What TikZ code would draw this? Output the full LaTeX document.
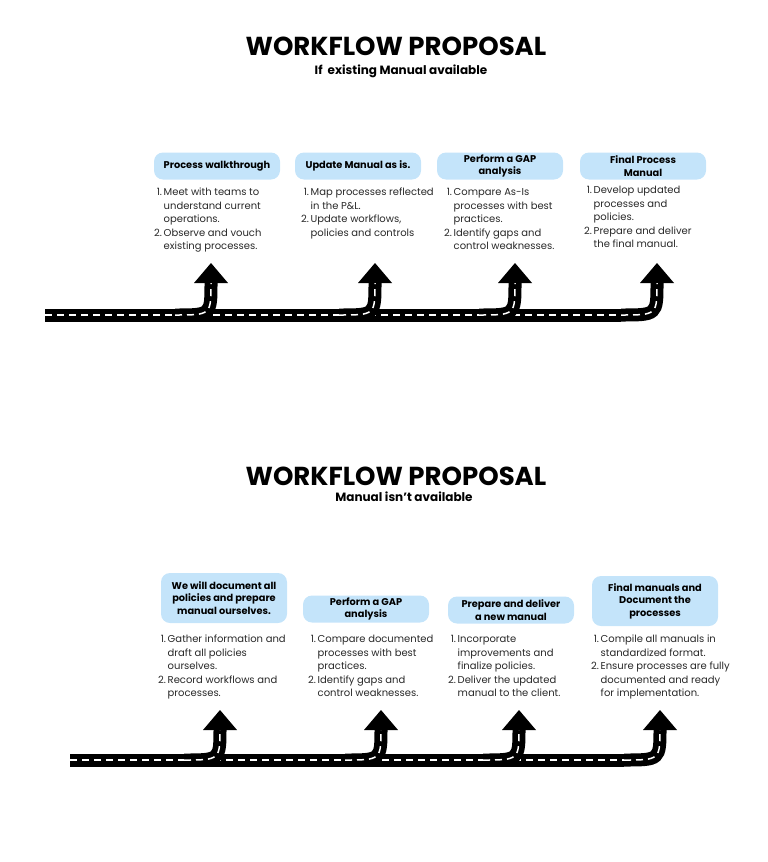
\documentclass[tikz,border=0pt]{standalone}
\usepackage{fontspec}
\setmainfont{Poppins}
\usetikzlibrary{positioning}
\definecolor{boxblue}{RGB}{196,228,250}
\definecolor{bodygrey}{RGB}{40,40,40}
\tikzset{
  title/.style={font=\bfseries\fontsize{26}{30}\selectfont},
  subtitle/.style={font=\bfseries\fontsize{12}{14}\selectfont},
  stepbox/.style={rectangle, rounded corners=9pt, fill=boxblue, minimum width=126pt, minimum height=27pt, align=center, inner sep=2pt, font=\bfseries\fontsize{9.8}{12.5}\selectfont},
  steplist/.style={anchor=north west, inner sep=0pt, text=bodygrey, font=\fontsize{10}{13.5}\selectfont},
  road/.style={line width=13pt, black},
  lane/.style={line width=1.5pt, white, dash pattern=on 7pt off 5pt}
}
\newcommand{\roadturn}[3]{% x, road y, tip y
  \draw[road] (#1-36,#2) .. controls (#1,#2) .. (#1,#2-32) -- (#1,#3+18);
  \draw[lane] (#1-36,#2) .. controls (#1,#2) .. (#1,#2-32) -- (#1,#3+20);
  \fill (#1,#3) -- (#1+17,#3+20) -- (#1-17,#3+20) -- cycle;
}
\begin{document}
\begin{tikzpicture}[x=1pt,y=-1pt]
\useasboundingbox (0,0) rectangle (768,862);

% first proposal
\node (titleA) [title] at (396,46) {WORKFLOW PROPOSAL};
\node (subA) [subtitle] at (401,71) {If\ \ existing Manual available};

\draw[road] (45,315) -- (621,315);
\draw[lane] (45,315) -- (621,315);
\foreach \x in {211,375,515}{\roadturn{\x}{315}{263}}
\roadturn{657}{315}{263}

\node (walk) [stepbox] at (217,166) {Process walkthrough};
\node (update) [stepbox] at (358,166) {Update Manual as is.};
\node (gapA) [stepbox] at (500,166) {Perform a GAP\\analysis};
\node (finalA) [stepbox] at (643,166) {Final Process\\Manual};

\node (walklist) [steplist] at (154,186) {\begin{tabular}{@{}r@{\,}l@{}}
1.&Meet with teams to\\ &understand current\\ &operations.\\
2.&Observe and vouch\\ &existing processes.\end{tabular}};
\node (updatelist) [steplist] at (301,186) {\begin{tabular}{@{}r@{\,}l@{}}
1.&Map processes reflected\\ &in the P\&L.\\
2.&Update workflows,\\ &policies and controls\end{tabular}};
\node (gapAlist) [steplist] at (444,186) {\begin{tabular}{@{}r@{\,}l@{}}
1.&Compare As-Is\\ &processes with best\\ &practices.\\
2.&Identify gaps and\\ &control weaknesses.\end{tabular}};
\node (finalAlist) [steplist] at (584,184) {\begin{tabular}{@{}r@{\,}l@{}}
1.&Develop updated\\ &processes and\\ &policies.\\
2.&Prepare and deliver\\ &the final manual.\end{tabular}};

% second proposal
\node (titleB) [title] at (396,476) {WORKFLOW PROPOSAL};
\node (subB) [subtitle] at (404,497) {Manual isn't available};

\draw[road] (70,760) -- (624,760);
\draw[lane] (70,760) -- (624,760);
\foreach \x in {220,381,519}{\roadturn{\x}{760}{710}}
\roadturn{660}{760}{710}

\node (document) [stepbox, minimum height=50pt] at (224,598) {We will document all\\policies and prepare\\manual ourselves.};
\node (gapB) [stepbox] at (366,609) {Perform a GAP\\analysis};
\node (deliver) [stepbox] at (511,610) {Prepare and deliver\\a new manual};
\node (finalB) [stepbox, minimum height=50pt] at (655,601) {Final manuals and\\Document the\\processes};

\node (documentlist) [steplist] at (158,633) {\begin{tabular}{@{}r@{\,}l@{}}
1.&Gather information and\\ &draft all policies\\ &ourselves.\\
2.&Record workflows and\\ &processes.\end{tabular}};
\node (gapBlist) [steplist] at (308,633) {\begin{tabular}{@{}r@{\,}l@{}}
1.&Compare documented\\ &processes with best\\ &practices.\\
2.&Identify gaps and\\ &control weaknesses.\end{tabular}};
\node (deliverlist) [steplist] at (448,633) {\begin{tabular}{@{}r@{\,}l@{}}
1.&Incorporate\\ &improvements and\\ &finalize policies.\\
2.&Deliver the updated\\ &manual to the client.\end{tabular}};
\node (finalBlist) [steplist] at (591,633) {\begin{tabular}{@{}r@{\,}l@{}}
1.&Compile all manuals in\\ &standardized format.\\
2.&Ensure processes are fully\\ &documented and ready\\ &for implementation.\end{tabular}};
\end{tikzpicture}
\end{document}
